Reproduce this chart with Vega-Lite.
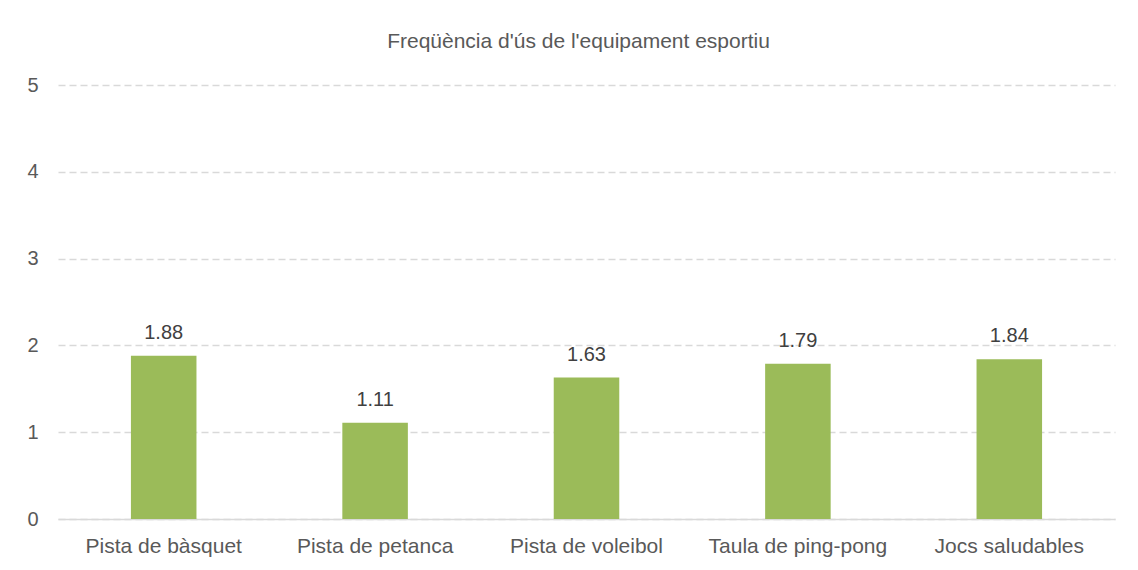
{
  "$schema": "https://vega.github.io/schema/vega-lite/v6.json",
  "width": 1057,
  "height": 434,
  "autosize": {"type": "none"},
  "padding": {"left": 58, "top": 85, "right": 23, "bottom": 51},
  "background": "white",
  "title": {
    "text": "Freqüència d'ús de l'equipament esportiu",
    "font": "Liberation Sans",
    "fontSize": 21,
    "fontWeight": "normal",
    "color": "#595959",
    "anchor": "middle",
    "offset": 23,
    "dx": -8
  },
  "data": {
    "values": [
      {"equip": "Pista de bàsquet", "freq": 1.88},
      {"equip": "Pista de petanca", "freq": 1.11},
      {"equip": "Pista de voleibol", "freq": 1.63},
      {"equip": "Taula de ping-pong", "freq": 1.79},
      {"equip": "Jocs saludables", "freq": 1.84}
    ]
  },
  "encoding": {
    "x": {
      "field": "equip",
      "type": "nominal",
      "sort": null,
      "scale": {"paddingInner": 0.69, "paddingOuter": 0.345},
      "axis": {
        "title": null,
        "labelAngle": 0,
        "labelFont": "Liberation Sans",
        "labelFontSize": 21,
        "labelColor": "#595959",
        "labelPadding": 16,
        "ticks": false,
        "domain": true,
        "domainColor": "#D9D9D9",
        "domainWidth": 1.3
      }
    },
    "y": {
      "field": "freq",
      "type": "quantitative",
      "scale": {"domain": [0, 5]},
      "axis": {
        "title": null,
        "values": [0, 1, 2, 3, 4, 5],
        "labelFont": "Liberation Sans",
        "labelFontSize": 20,
        "labelColor": "#595959",
        "labelPadding": 20,
        "ticks": false,
        "domain": false,
        "grid": true,
        "gridColor": "#D9D9D9",
        "gridWidth": 1.3,
        "gridDash": [7, 4]
      }
    }
  },
  "layer": [
    {"mark": {"type": "bar", "color": "#9BBB59"}},
    {
      "mark": {
        "type": "text",
        "dy": -13,
        "baseline": "bottom",
        "font": "Liberation Sans",
        "fontSize": 20,
        "color": "#404040"
      },
      "encoding": {"text": {"field": "freq", "type": "quantitative", "format": ".2f"}}
    }
  ],
  "config": {"view": {"stroke": null}}
}
